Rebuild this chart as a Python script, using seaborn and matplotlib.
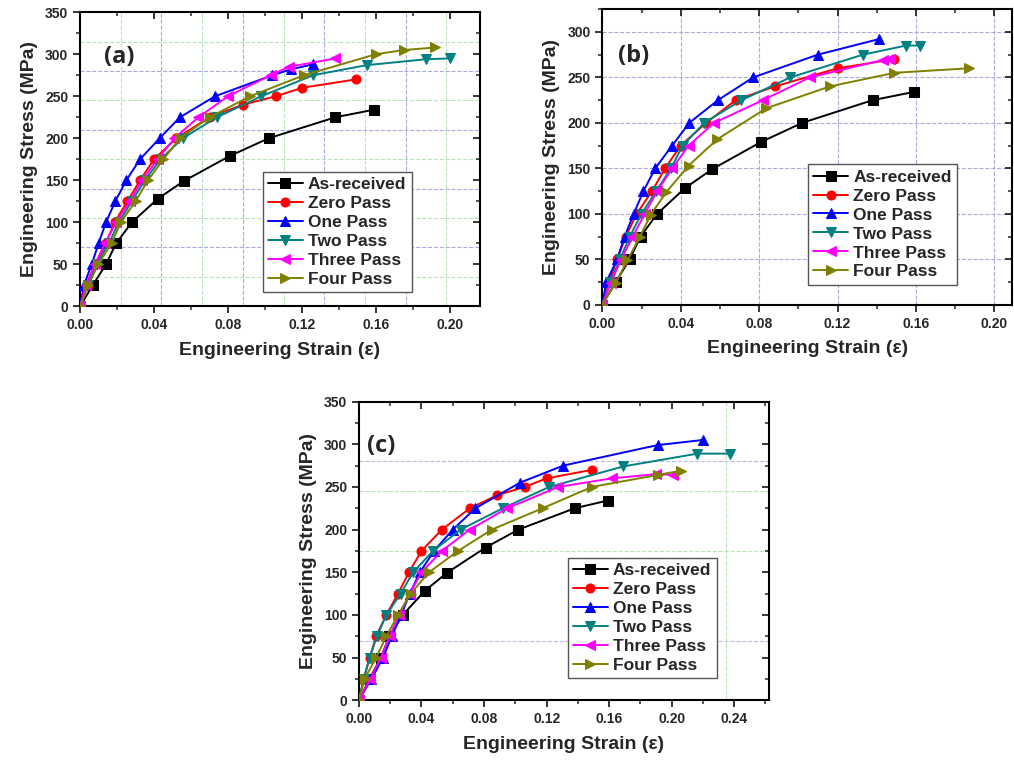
import numpy as np
import pandas as pd
import matplotlib
matplotlib.use("Agg")
import matplotlib.pyplot as plt
import seaborn as sns
from matplotlib.ticker import MultipleLocator

# Engineering stress-strain data
# Same as-received curve is plotted in every panel
asr_strain = [0, 0.0068, 0.014, 0.0195, 0.028, 0.042, 0.056, 0.081, 0.102, 0.138, 0.159]
asr_stress = [0, 25, 50, 75, 100, 128, 149, 179, 200, 225, 234]

# panel (a)
a_zero_strain = [0, 0.004, 0.0085, 0.014, 0.0186, 0.0256, 0.0324, 0.040, 0.052, 0.070, 0.088, 0.106, 0.120, 0.149]
a_zero_stress = [0, 25, 50, 75, 100, 125, 150, 175, 200, 225, 240, 250, 260, 270]
a_one_strain = [0, 0.002, 0.0063, 0.010, 0.014, 0.019, 0.025, 0.0324, 0.043, 0.054, 0.073, 0.104, 0.114, 0.126]
a_one_stress = [0, 25, 50, 75, 100, 125, 150, 175, 200, 225, 250, 275, 282, 288]
a_two_strain = [0, 0.004, 0.009, 0.0155, 0.021, 0.028, 0.035, 0.0435, 0.0555, 0.074, 0.098, 0.126, 0.155, 0.187, 0.200]
a_two_stress = [0, 25, 50, 75, 100, 125, 150, 175, 200, 225, 250, 275, 287, 294, 295]
a_three_strain = [0, 0.003, 0.008, 0.0135, 0.0195, 0.027, 0.0335, 0.042, 0.051, 0.064, 0.080, 0.103, 0.113, 0.138]
a_three_stress = [0, 25, 50, 75, 100, 125, 150, 175, 200, 225, 250, 275, 285, 295]
a_four_strain = [0, 0.0045, 0.0097, 0.017, 0.022, 0.030, 0.0367, 0.045, 0.054, 0.070, 0.092, 0.121, 0.160, 0.175, 0.192]
a_four_stress = [0, 25, 50, 75, 100, 125, 150, 175, 200, 225, 250, 275, 300, 305, 308]

# panel (b)
b_zero_strain = [0, 0.0035, 0.0075, 0.012, 0.0175, 0.0254, 0.032, 0.040, 0.053, 0.068, 0.088, 0.120, 0.149]
b_zero_stress = [0, 25, 50, 75, 100, 125, 150, 175, 200, 225, 240, 260, 270]
b_one_strain = [0, 0.002, 0.0076, 0.0114, 0.016, 0.021, 0.027, 0.0356, 0.0444, 0.059, 0.077, 0.110, 0.141]
b_one_stress = [0, 25, 50, 75, 100, 125, 150, 175, 200, 225, 250, 275, 292]
b_two_strain = [0, 0.004, 0.009, 0.014, 0.020, 0.0275, 0.035, 0.041, 0.052, 0.071, 0.096, 0.133, 0.155, 0.162]
b_two_stress = [0, 25, 50, 75, 100, 125, 150, 175, 200, 225, 250, 275, 285, 285]
b_three_strain = [0, 0.0043, 0.0094, 0.0153, 0.0216, 0.028, 0.0357, 0.044, 0.057, 0.082, 0.106, 0.143, 0.147]
b_three_stress = [0, 24, 49, 74, 100, 125, 150, 175, 200, 225, 250, 269, 270]
b_four_strain = [0, 0.0068, 0.0128, 0.019, 0.0247, 0.0327, 0.044, 0.0587, 0.0836, 0.116, 0.149, 0.187]
b_four_stress = [0, 24, 49, 74, 99, 124, 153, 182, 216, 240, 255, 260]

# panel (c)
c_zero_strain = [0, 0.003, 0.007, 0.011, 0.0175, 0.025, 0.032, 0.040, 0.053, 0.071, 0.088, 0.106, 0.120, 0.149]
c_zero_stress = [0, 25, 50, 75, 100, 125, 150, 175, 200, 225, 240, 250, 260, 270]
c_one_strain = [0, 0.008, 0.0154, 0.021, 0.027, 0.0325, 0.039, 0.048, 0.060, 0.0745, 0.103, 0.1307, 0.191, 0.220]
c_one_stress = [0, 25, 50, 75, 100, 125, 150, 175, 200, 225, 255, 275, 299, 305]
c_two_strain = [0, 0.003, 0.0068, 0.0115, 0.0175, 0.0267, 0.0346, 0.0474, 0.065, 0.092, 0.1217, 0.169, 0.2165, 0.2375]
c_two_stress = [0, 25, 50, 75, 100, 125, 150, 175, 200, 225, 250, 274, 289, 289]
c_three_strain = [0, 0.0073, 0.014, 0.0196, 0.0256, 0.0325, 0.040, 0.053, 0.0709, 0.0948, 0.1275, 0.1617, 0.190, 0.201]
c_three_stress = [0, 25, 50, 75, 100, 125, 150, 175, 200, 225, 250, 260, 265, 264]
c_four_strain = [0, 0.0036, 0.011, 0.0175, 0.025, 0.0331, 0.0448, 0.0634, 0.085, 0.1174, 0.149, 0.191, 0.206]
c_four_stress = [0, 25, 50, 75, 100, 125, 150, 175, 200, 225, 250, 264, 269]

labels = ["As-received", "Zero Pass", "One Pass", "Two Pass", "Three Pass", "Four Pass"]
colors = ["#000000", "#ff0000", "#0000ff", "#008080", "#ff00ff", "#808000"]
markers = ["s", "o", "^", "v", "<", ">"]

panels = [
    ("(a)", [(asr_strain, asr_stress), (a_zero_strain, a_zero_stress), (a_one_strain, a_one_stress),
             (a_two_strain, a_two_stress), (a_three_strain, a_three_stress), (a_four_strain, a_four_stress)]),
    ("(b)", [(asr_strain, asr_stress), (b_zero_strain, b_zero_stress), (b_one_strain, b_one_stress),
             (b_two_strain, b_two_stress), (b_three_strain, b_three_stress), (b_four_strain, b_four_stress)]),
    ("(c)", [(asr_strain, asr_stress), (c_zero_strain, c_zero_stress), (c_one_strain, c_one_stress),
             (c_two_strain, c_two_stress), (c_three_strain, c_three_stress), (c_four_strain, c_four_stress)]),
]

sns.set_style("white")
plt.rcParams["font.family"] = ["Liberation Sans", "DejaVu Sans"]

fig = plt.figure(figsize=(10.14, 7.62), dpi=100)

# axes rectangles (left, bottom, width, height) and per-panel settings
rects = [[0.079, 0.598, 0.394, 0.386], [0.594, 0.600, 0.404, 0.388], [0.354, 0.081, 0.404, 0.392]]
xlims = [0.216, 0.209, 0.262]
ylims = [350, 325, 350]
xticks = [np.arange(0, 0.21, 0.04), np.arange(0, 0.21, 0.04), np.arange(0, 0.25, 0.04)]
yticks = [np.arange(0, 351, 50), np.arange(0, 301, 50), np.arange(0, 351, 50)]
legend_anchor = [(0.4575, 0.048), (0.502, 0.068), (0.51, 0.074)]
tag_pos = [(0.013, 297), (0.008, 274), (0.005, 298)]

for i, (tag, series) in enumerate(panels):
    ax = fig.add_axes(rects[i])

    # Origin-like dashed grid
    if i == 0:
        for k, y in enumerate(np.arange(35, 350, 35)):
            ax.axhline(y, color="#aaaae0" if k % 2 else "#bbe3bb", ls="--", lw=0.8, zorder=0)
        for k, x in enumerate(np.arange(0.022, 0.216, 0.022)):
            ax.axvline(x, color="#aaaae0" if k % 2 else "#bbe3bb", ls="--", lw=0.8, zorder=0)
    elif i == 1:
        for y in range(50, 301, 50):
            ax.axhline(y, color="#aaaae0", ls="--", lw=0.8, zorder=0)
        for x in np.arange(0.04, 0.21, 0.04):
            ax.axvline(x, color="#aaaae0", ls="--", lw=0.8, zorder=0)
    else:
        for y, c in [(70, "#bbbbe3"), (175, "#bbe3bb"), (245, "#bbe3bb"), (280, "#bbbbe3")]:
            ax.axhline(y, color=c, ls="--", lw=0.8, zorder=0)
        ax.axvline(0.235, color="#bbe3bb", ls="--", lw=0.8, zorder=0)

    for j, (xs, ys) in enumerate(series):
        df = pd.DataFrame({"strain": xs, "stress": ys})
        sns.lineplot(data=df, x="strain", y="stress", ax=ax, sort=False, color=colors[j],
                     marker=markers[j], markersize=6.5, markeredgecolor=colors[j],
                     markerfacecolor=colors[j], linewidth=1.4, label=labels[j], zorder=3 + j)

    ax.set_xlim(0, xlims[i])
    ax.set_ylim(0, ylims[i])
    ax.set_xticks(xticks[i])
    ax.set_yticks(yticks[i])
    ax.set_xticklabels([f"{v:.2f}" for v in xticks[i]])
    ax.xaxis.set_minor_locator(MultipleLocator(0.02))
    ax.yaxis.set_minor_locator(MultipleLocator(25))
    ax.tick_params(axis="both", which="major", direction="out", length=5, width=1.3,
                   labelsize=10, bottom=True, left=True)
    ax.tick_params(axis="both", which="minor", direction="out", length=3, width=1.1,
                   bottom=True, left=True)
    ax.tick_params(axis="both", which="both", top=True, right=True)
    for lab in ax.get_xticklabels() + ax.get_yticklabels():
        lab.set_fontweight("bold")
    # top / right ticks point inward
    for t in ax.xaxis.get_major_ticks() + ax.xaxis.get_minor_ticks():
        t.tick2line.set_marker(3)
    for t in ax.yaxis.get_major_ticks() + ax.yaxis.get_minor_ticks():
        t.tick2line.set_marker(0)

    for sp in ax.spines.values():
        sp.set_color("black")
        sp.set_linewidth(1.5)

    ax.set_xlabel("Engineering Strain (\u03b5)", fontsize=14, fontweight="bold", labelpad=7)
    ax.set_ylabel("Engineering Stress (MPa)", fontsize=14, fontweight="bold", labelpad=5)

    ax.text(tag_pos[i][0], tag_pos[i][1], tag, fontsize=17, fontweight="bold",
            family=["Open Sans", "DejaVu Sans"], va="center", ha="left")

    leg = ax.legend(loc="lower left", bbox_to_anchor=legend_anchor[i],
                    frameon=True, fancybox=False, edgecolor="#555555", framealpha=1,
                    prop={"size": 12.5, "weight": "bold"}, handlelength=2.0,
                    labelspacing=0.22, borderpad=0.3, handletextpad=0.3, borderaxespad=0)
    leg.get_frame().set_linewidth(1.0)

fig.savefig("out.png", dpi=100, facecolor="white")
